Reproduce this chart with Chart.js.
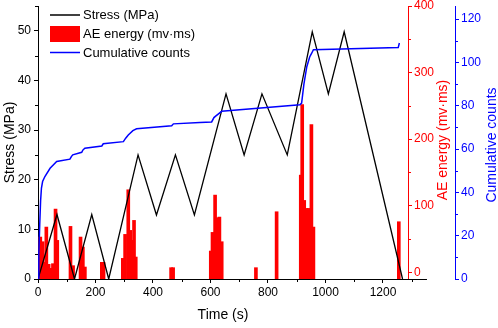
<!DOCTYPE html>
<html><head><meta charset="utf-8">
<script src="https://cdn.jsdelivr.net/npm/chart.js@4/dist/chart.umd.min.js"></script>
<style>html,body{margin:0;padding:0;background:#fff;}#wrap{width:498px;height:328px;}</style>
</head><body><div id="wrap"><canvas id="c" width="498" height="328"></canvas></div>
<script>
// ---- data ----
const stressTime = [0, 66, 127, 187, 246, 348, 412, 478, 544, 654, 717, 779, 867, 954, 1010, 1065, 1268];
const stressMPa  = [0, 13, 0, 13, 0, 25, 12.9, 25, 12.9, 37.3, 25, 37.3, 25, 49.8, 37.3, 49.8, 0];

const countTime  = [0, 3, 6, 9, 12, 16, 24, 42, 65, 111, 116, 121, 152, 156, 163, 222, 227, 297, 305, 314, 330, 343, 465, 471, 563, 604, 612, 619, 639, 911, 917, 925, 935, 945, 952, 958, 1253, 1257];
const countValue = [0, 12, 25, 36, 42, 45, 47.3, 51.1, 54.2, 55.3, 56.5, 57.3, 58.5, 59.5, 60.4, 61.4, 62.4, 63.4, 65, 66.5, 68.5, 69.3, 70.7, 71.6, 72.2, 72.5, 74.5, 75.3, 77.4, 80.4, 81.2, 90, 98, 102.5, 104.2, 105.8, 106.8, 108.9];

const aeTime   = [8, 16, 21, 29, 37, 45, 52, 61, 67, 113, 122, 148, 156, 163, 222, 228, 295, 303, 314, 321, 327, 334, 340, 463, 470, 601, 607, 616, 624, 631, 639, 758, 830, 914, 919, 926, 934, 941, 951, 958, 1255];
const aeEnergy = [53, 46, 15, 68, 12, 6, 13, 95, 48, 69, 10, 53, 38, 8, 15, 15, 21, 57, 124, 63, 48, 78, 23, 7, 7, 32, 60, 116, 82, 83, 46, 7, 91, 146, 252, 108, 96, 96, 222, 68, 76];

const timeTicks   = [0, 200, 400, 600, 800, 1000, 1200];
const timeMinor   = [100, 300, 500, 700, 900, 1100, 1300];
const stressTicks = [0, 10, 20, 30, 40, 50];
const stressMinor = [5, 15, 25, 35, 45, 55];
const aeTicks     = [0, 100, 200, 300, 400];
const aeMinor     = [50, 150, 250, 350];
const countTicks  = [0, 20, 40, 60, 80, 100, 120];
const countMinor  = [10, 30, 50, 70, 90, 110];

const seriesLabels = ['Stress (MPa)', 'AE energy (mv\u00b7ms)', 'Cumulative counts'];
const axisTitles = { x: 'Time (s)', y: 'Stress (MPa)', yE: 'AE energy (mv\u00b7ms)', yC: 'Cumulative counts' };

// ---- styling ----
const FONT = '"Liberation Sans", Arial, sans-serif';
const RED = '#ff0000', BLUE = '#0000ff', BLACK = '#000000';
Chart.defaults.font.family = FONT;
Chart.defaults.color = BLACK;

const pts = (xs, ys) => xs.map((x, i) => ({ x: x, y: ys[i] }));
const setTicks = arr => s => { s.ticks = arr.map(v => ({ value: v })); };
const plain = v => String(v);

const extras = {
  id: 'extras',
  afterDraw(chart) {
    const c = chart.ctx, a = chart.chartArea, sc = chart.scales;
    c.save();
    c.lineWidth = 1;
    // x axis line extends beyond the AE axis
    const xEnd = sc.x.getPixelForValue(1353);
    c.strokeStyle = BLACK;
    c.beginPath(); c.moveTo(a.right, Math.round(a.bottom) + 0.5); c.lineTo(xEnd, Math.round(a.bottom) + 0.5); c.stroke();
    // minor ticks
    c.beginPath();
    timeMinor.forEach(v => { const p = Math.round(sc.x.getPixelForValue(v)) + 0.5; c.moveTo(p, a.bottom); c.lineTo(p, a.bottom + 3); });
    stressMinor.forEach(v => { const p = Math.round(sc.y.getPixelForValue(v)) + 0.5; c.moveTo(a.left, p); c.lineTo(a.left - 3, p); });
    c.stroke();
    c.strokeStyle = RED; c.beginPath();
    aeMinor.forEach(v => { const p = Math.round(sc.yE.getPixelForValue(v)) + 0.5; c.moveTo(sc.yE.left, p); c.lineTo(sc.yE.left + 3, p); });
    c.stroke();
    c.strokeStyle = BLUE; c.beginPath();
    countMinor.forEach(v => { const p = Math.round(sc.yC.getPixelForValue(v)) + 0.5; c.moveTo(sc.yC.left, p); c.lineTo(sc.yC.left + 3, p); });
    c.stroke();
    // right axis titles (read bottom to top)
    c.font = '14px ' + FONT; c.textAlign = 'center'; c.textBaseline = 'middle';
    c.save(); c.translate(sc.yE.left + 35, 140); c.rotate(-Math.PI / 2); c.fillStyle = RED; c.fillText(axisTitles.yE, 0, 0); c.restore();
    c.save(); c.translate(sc.yC.left + 37, 145); c.rotate(-Math.PI / 2); c.fillStyle = BLUE; c.fillText(axisTitles.yC, 0, 0); c.restore();
    // legend
    const ds = chart.data.datasets;
    const lx = a.left + 12, tx = a.left + 45;
    c.font = '13px ' + FONT; c.textAlign = 'left'; c.fillStyle = BLACK;
    c.strokeStyle = ds[0].borderColor; c.lineWidth = 1.5;
    c.beginPath(); c.moveTo(lx, 15); c.lineTo(lx + 30, 15); c.stroke();
    c.fillText(ds[0].label, tx, 15);
    c.fillStyle = ds[1].backgroundColor; c.fillRect(lx, 26, 30, 16);
    c.fillStyle = BLACK; c.fillText(ds[1].label, tx, 34);
    c.strokeStyle = ds[2].borderColor;
    c.beginPath(); c.moveTo(lx, 52.5); c.lineTo(lx + 30, 52.5); c.stroke();
    c.fillText(ds[2].label, tx, 53);
    c.restore();
  }
};

new Chart(document.getElementById('c'), {
  type: 'line',
  data: {
    datasets: [
      { type: 'line', label: seriesLabels[0], data: pts(stressTime, stressMPa), borderColor: BLACK, borderWidth: 1.3, pointRadius: 0, yAxisID: 'y', order: 2, tension: 0 },
      { type: 'bar', label: seriesLabels[1], data: pts(aeTime, aeEnergy), backgroundColor: RED, borderWidth: 0, barThickness: 3, base: -10, yAxisID: 'yE', order: 3 },
      { type: 'line', label: seriesLabels[2], data: pts(countTime, countValue), borderColor: BLUE, borderWidth: 1.5, pointRadius: 0, yAxisID: 'yC', order: 1, tension: 0 }
    ]
  },
  options: {
    responsive: false, animation: false, events: [],
    layout: { padding: { top: 6, left: 0, right: 0, bottom: 0 } },
    plugins: { legend: { display: false }, tooltip: { enabled: false } },
    scales: {
      x: {
        type: 'linear', position: 'bottom', min: 0, max: 1287, offset: false,
        afterBuildTicks: setTicks(timeTicks),
        afterFit: s => { s.height = 49; s.paddingLeft = 0; s.paddingRight = 0; },
        grid: { drawOnChartArea: false, tickLength: 4, color: BLACK, offset: false },
        border: { color: BLACK, width: 1 },
        ticks: { color: BLACK, font: { size: 12 }, padding: 2, maxRotation: 0, autoSkip: false, callback: plain },
        title: { display: true, text: axisTitles.x, color: BLACK, font: { size: 14 }, padding: { top: 4, bottom: 4 } }
      },
      y: {
        type: 'linear', position: 'left', min: 0, max: 55,
        afterBuildTicks: setTicks(stressTicks),
        afterFit: s => { s.width = 38; s.paddingTop = 0; s.paddingBottom = 0; },
        grid: { drawOnChartArea: false, tickLength: 4, color: BLACK },
        border: { color: BLACK, width: 1 },
        ticks: { color: BLACK, font: { size: 12 }, padding: 3, callback: plain },
        title: { display: true, text: axisTitles.y, color: BLACK, font: { size: 14 }, padding: { top: 2, bottom: 2 } }
      },
      yE: {
        type: 'linear', position: 'right', min: -10, max: 400, weight: 0,
        afterBuildTicks: setTicks(aeTicks),
        afterFit: s => { s.width = 47; s.paddingTop = 0; s.paddingBottom = 0; },
        grid: { drawOnChartArea: false, tickLength: 4, color: RED },
        border: { color: RED, width: 1 },
        ticks: { color: RED, font: { size: 12 }, padding: 2, callback: plain },
        title: { display: false }
      },
      yC: {
        type: 'linear', position: 'right', min: 0, max: 126, weight: 1,
        afterBuildTicks: setTicks(countTicks),
        afterFit: s => { s.width = 43; s.paddingTop = 0; s.paddingBottom = 0; },
        grid: { drawOnChartArea: false, tickLength: 4, color: BLUE },
        border: { color: BLUE, width: 1 },
        ticks: { color: BLUE, font: { size: 12 }, padding: 2, callback: plain },
        title: { display: false }
      }
    }
  },
  plugins: [extras]
});
</script>
</body></html>
